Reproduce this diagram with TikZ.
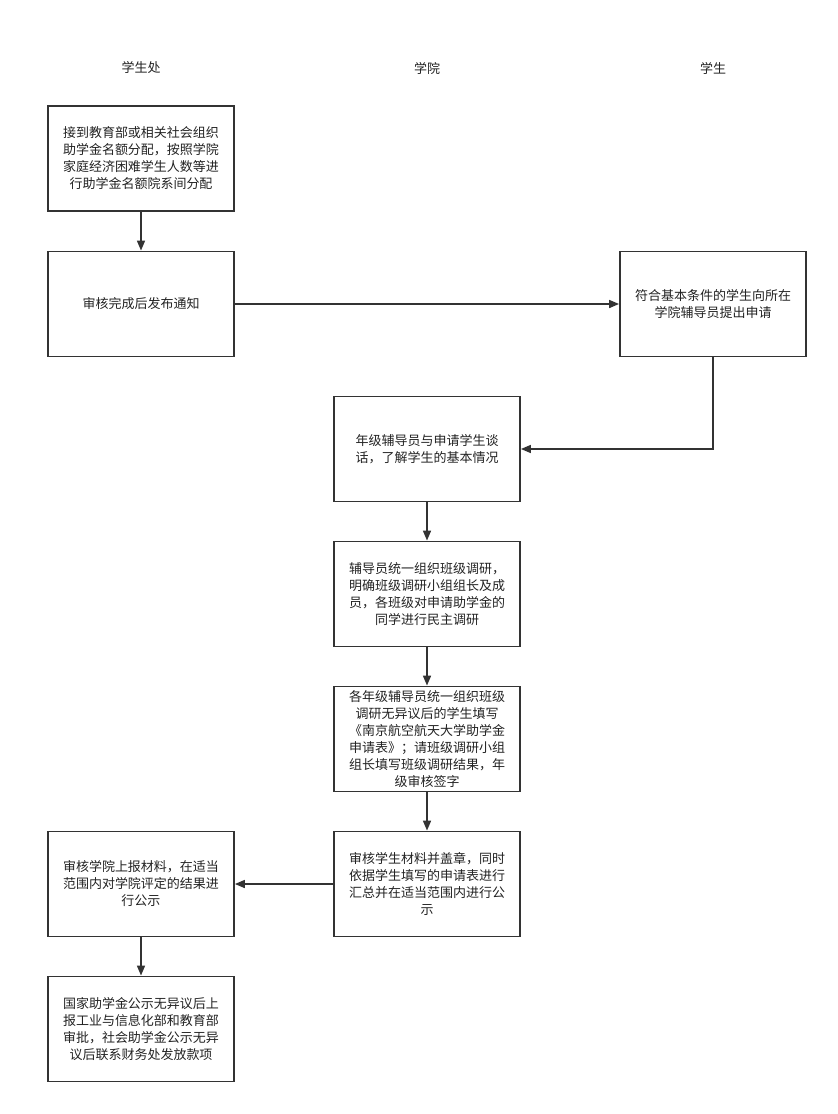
\documentclass[tikz,border=0pt]{standalone}
\usepackage{fontspec}
\setmainfont{Noto Sans CJK SC}
\usetikzlibrary{arrows.meta}
\definecolor{ln}{HTML}{333333}
\definecolor{tx}{HTML}{222222}
\begin{document}
\begin{tikzpicture}[x=1pt,y=-1pt,
  stepbox/.style={draw=ln,line width=1.8pt,minimum width=186pt,minimum height=105pt,
    align=center,inner sep=0pt,text=tx,font=\fontsize{13}{17}\selectfont},
  hdr/.style={text=tx,font=\fontsize{13}{17}\selectfont},
  conn/.style={draw=ln,line width=1.6pt,-{Triangle[length=10pt,width=8pt]}}]
\useasboundingbox (0,0) rectangle (838,1114);
\node[hdr] (h1) at (141,68) {学生处};
\node[hdr] (h2) at (427,68) {学院};
\node[hdr] (h3) at (713,68) {学生};
\node[stepbox] (b1) at (141,158.5) {接到教育部或相关社会组织\\助学金名额分配，按照学院\\家庭经济困难学生人数等进\\行助学金名额院系间分配};
\node[stepbox] (b2) at (141,304) {审核完成后发布通知};
\node[stepbox] (b3) at (713,304) {符合基本条件的学生向所在\\学院辅导员提出申请};
\node[stepbox] (b4) at (427,449) {年级辅导员与申请学生谈\\话，了解学生的基本情况};
\node[stepbox] (b5) at (427,594) {辅导员统一组织班级调研，\\明确班级调研小组组长及成\\员，各班级对申请助学金的\\同学进行民主调研};
\node[stepbox] (b6) at (427,739) {各年级辅导员统一组织班级\\调研无异议后的学生填写\\《南京航空航天大学助学金\\申请表》；请班级调研小组\\组长填写班级调研结果，年\\级审核签字};
\node[stepbox] (b7) at (427,884) {审核学生材料并盖章，同时\\依据学生填写的申请表进行\\汇总并在适当范围内进行公\\示};
\node[stepbox] (b8) at (141,884) {审核学院上报材料，在适当\\范围内对学院评定的结果进\\行公示};
\node[stepbox] (b9) at (141,1029) {国家助学金公示无异议后上\\报工业与信息化部和教育部\\审批，社会助学金公示无异\\议后联系财务处发放款项};
\draw[conn] (b1) -- (b2);
\draw[conn] (b2) -- (b3);
\draw[conn] (b3.south) |- (b4.east);
\draw[conn] (b4) -- (b5);
\draw[conn] (b5) -- (b6);
\draw[conn] (b6) -- (b7);
\draw[conn] (b7) -- (b8);
\draw[conn] (b8) -- (b9);
\end{tikzpicture}
\end{document}
